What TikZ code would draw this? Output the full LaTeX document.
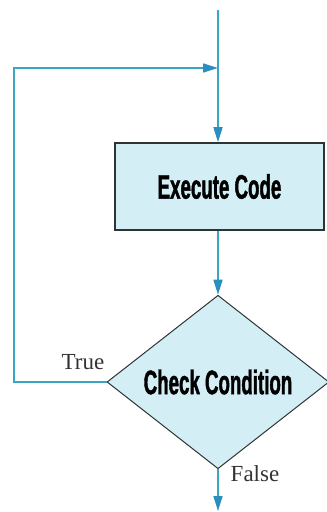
\documentclass[tikz,border=0pt]{standalone}
\usepackage{fontspec}
\usepackage{tikz}
\usetikzlibrary{shapes.geometric,arrows.meta}
\setmainfont{Liberation Serif}
\newfontfamily\boxfont[FakeStretch=0.55,FakeBold=1.2]{Liberation Sans}
\definecolor{flowline}{HTML}{3AA6C2}
\definecolor{flowtip}{HTML}{2A8EBE}
\definecolor{boxfill}{HTML}{D3EEF5}
\definecolor{boxedge}{HTML}{2E3436}

\tikzset{
  flow/.style={draw=flowline, line width=1.6pt},
  flowarrow/.style={flow, -{Triangle[length=15pt,width=9pt,color=flowtip,fill=flowtip]}},
  block/.style={rectangle, draw=boxedge, fill=boxfill, line width=1.6pt,
    minimum width=209pt, minimum height=87pt, inner sep=0pt,
    font=\boxfont\bfseries\fontsize{34}{38}\selectfont},
  decision/.style={diamond, draw=boxedge, fill=boxfill, line width=1pt,
    minimum width=222pt, minimum height=157pt, inner sep=0pt,
    font=\boxfont\bfseries\fontsize{34}{38}\selectfont},
  branch/.style={font=\fontsize{23}{25}\selectfont, text=black!80, inner sep=0pt}
}

\begin{document}
\begin{tikzpicture}[x=1pt,y=-1pt]
\useasboundingbox (0,0) rectangle (327,512);

% entry, loop corner and exit points
\coordinate (entry) at (218,10);
\coordinate (join) at (218,68);
\coordinate (corner) at (14,68);
\coordinate (exit) at (218,511);

% the two boxes
\node[block] (exec) at (219.5,186.5) {Execute Code};
\node[decision] (check) at (218,382) {Check Condition};

% labels on the branches
\node[branch] (truelbl) at (83,362) {True};
\node[branch] (falselbl) at (255,474) {False};

% connectors
\draw[flow] (entry) -- (join);
\draw[flowarrow] (join) -- (join |- exec.north);
\draw[flowarrow] (exec.south -| join) -- (check.north);
\draw[flowarrow] (check.west) -| (corner) -- (join);
\draw[flowarrow] (check.south) -- (exit);
\end{tikzpicture}
\end{document}
